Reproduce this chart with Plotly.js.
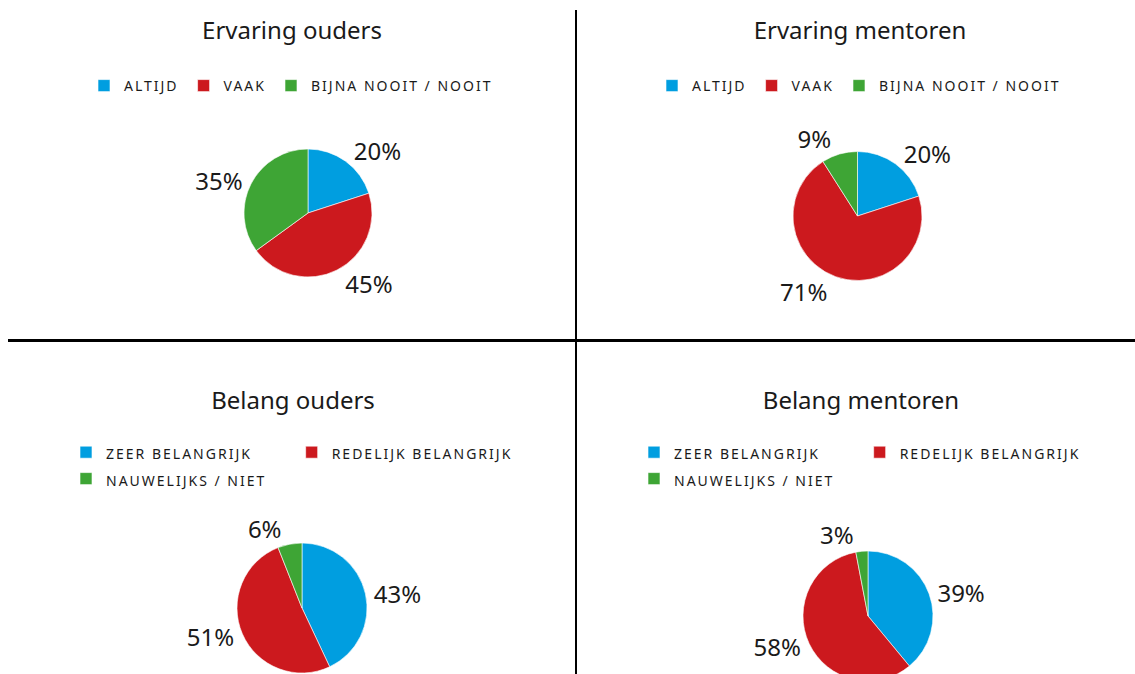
<!DOCTYPE html>
<html>
<head>
<meta charset="utf-8">
<script src="https://cdn.plot.ly/plotly-3.0.1.min.js"></script>
<style>
  html, body { margin: 0; padding: 0; background: #fff; width: 1135px; height: 674px; overflow: hidden; }
  .q { position: absolute; }
  .line { position: absolute; background: #000; }
  text.legendtext { letter-spacing: 2px; font-size: 14px !important; }
</style>
</head>
<body>
<div id="tl" class="q" style="left:0;top:0;width:576px;height:340px;"></div>
<div id="tr" class="q" style="left:576px;top:0;width:559px;height:340px;"></div>
<div id="bl" class="q" style="left:0;top:340px;width:576px;height:345px;"></div>
<div id="br" class="q" style="left:576px;top:340px;width:559px;height:345px;"></div>
<div class="line" style="left:8px;top:339px;width:1127px;height:3px;"></div>
<div class="line" style="left:575px;top:10px;width:2px;height:664px;"></div>
<script>
// ---- data ----
const titles = ["Ervaring ouders", "Ervaring mentoren", "Belang ouders", "Belang mentoren"];
const ervaringLabels = ["ALTIJD", "VAAK", "BIJNA NOOIT / NOOIT"];
const belangLabels = ["ZEER BELANGRIJK", "REDELIJK BELANGRIJK", "NAUWELIJKS / NIET"];
const ervaringOuders = [20, 45, 35];
const ervaringMentoren = [20, 71, 9];
const belangOuders = [43, 51, 6];
const belangMentoren = [39, 58, 3];
const colors = ["#009EE0", "#CC191E", "#3EA535"];

// ---- layout helpers ----
const FONT = "Noto Sans, Open Sans, sans-serif";
function draw(id, W, H, title, titleX, titleY, labels, values, cx, cy, r, leg) {
  const trace = {
    type: "pie",
    labels: labels,
    values: values,
    sort: false,
    direction: "clockwise",
    rotation: 0,
    marker: { colors: colors, line: { color: "#ffffff", width: 0.6 } },
    texttemplate: "%{value}%",
    textposition: "outside",
    textfont: { family: FONT, size: 24, color: "#1a1a1a" },
    hoverinfo: "label+value",
    domain: { x: [(cx - r) / W, (cx + r) / W], y: [1 - (cy + r) / H, 1 - (cy - r) / H] }
  };
  const layout = {
    width: W, height: H,
    margin: { l: 0, r: 0, t: 0, b: 0 },
    paper_bgcolor: "rgba(0,0,0,0)",
    plot_bgcolor: "rgba(0,0,0,0)",
    font: { family: FONT, color: "#1a1a1a" },
    title: { text: title, x: titleX / W, y: 1 - titleY / H, xanchor: "center", yanchor: "middle",
             xref: "container", yref: "container", font: { family: FONT, size: 24, color: "#1a1a1a" } },
    showlegend: true,
    legend: {
      orientation: "h", x: leg.x / W, y: 1 - leg.y / H, xanchor: "center", yanchor: "top",
      font: { family: FONT, size: leg.size, color: "#1a1a1a" }, itemclick: false, itemdoubleclick: false
    }
  };
  Plotly.newPlot(id, [trace], layout, { displayModeBar: false, staticPlot: true });
}

draw("tl", 576, 340, titles[0], 292, 31, ervaringLabels, ervaringOuders, 308, 213, 64,
     { x: 291, y: 70, size: 14 });
draw("tr", 559, 340, titles[1], 284, 31, ervaringLabels, ervaringMentoren, 281.5, 216, 64.5,
     { x: 283, y: 70, size: 14 });
draw("bl", 576, 345, titles[2], 293, 61, belangLabels, belangOuders, 302, 268, 65,
     { x: 292, y: 94, size: 18 });
draw("br", 559, 345, titles[3], 285, 61, belangLabels, belangMentoren, 292, 276, 65,
     { x: 284, y: 94, size: 18 });
</script>
</body>
</html>
